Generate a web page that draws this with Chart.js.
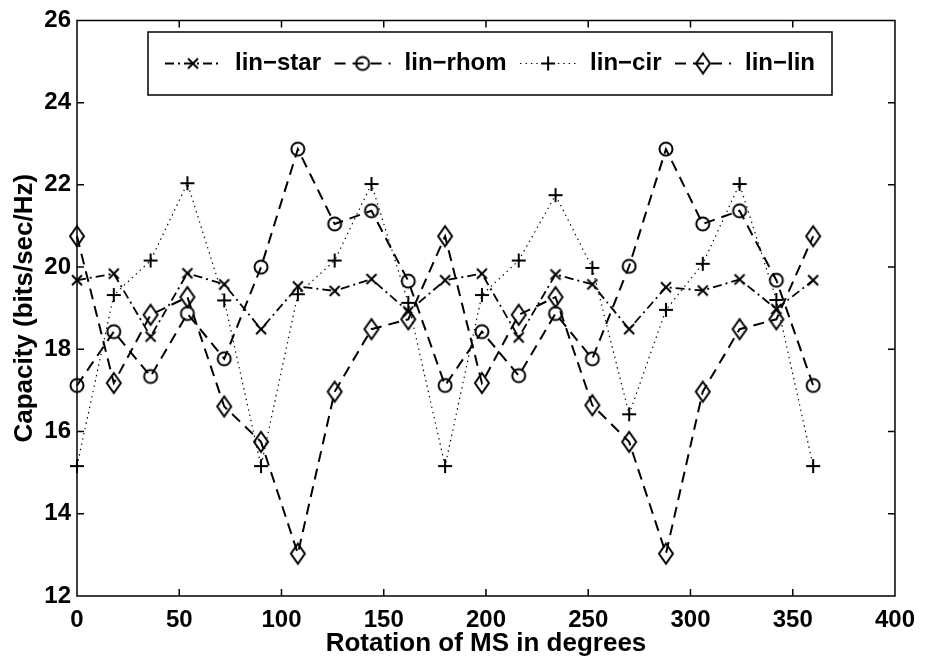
<!DOCTYPE html>
<html>
<head>
<meta charset="utf-8">
<script src="https://cdn.jsdelivr.net/npm/chart.js@4.4.1/dist/chart.umd.min.js"></script>
<style>
  html, body { margin: 0; padding: 0; background: #fff; }
  canvas { display: block; }
</style>
</head>
<body>
<canvas id="chart" width="925" height="661"></canvas>
<script>
// Rotation angle of the MS (degrees)
const angles = [0, 18, 36, 54, 72, 90, 108, 126, 144, 162, 180, 198, 216, 234, 252, 270, 288, 306, 324, 342, 360];

// Capacity (bits/sec/Hz) per configuration
const linStar = [19.68, 19.84, 18.31, 19.85, 19.58, 18.49, 19.53, 19.42, 19.71, 18.92, 19.68, 19.84, 18.29, 19.82, 19.58, 18.49, 19.51, 19.43, 19.70, 18.98, 19.68];
const linRhom = [17.12, 18.43, 17.34, 18.87, 17.77, 20.00, 22.87, 21.05, 21.37, 19.66, 17.12, 18.43, 17.36, 18.87, 17.77, 20.02, 22.87, 21.05, 21.37, 19.68, 17.12];
const linCir  = [15.16, 19.32, 20.16, 22.04, 19.19, 15.16, 19.34, 20.16, 22.02, 19.13, 15.16, 19.32, 20.16, 21.75, 19.98, 16.42, 18.96, 20.08, 22.02, 19.20, 15.16];
const linLin  = [20.75, 17.18, 18.84, 19.27, 16.61, 15.75, 13.03, 16.97, 18.49, 18.73, 20.75, 17.18, 18.84, 19.27, 16.64, 15.75, 13.03, 16.97, 18.49, 18.73, 20.75];

const seriesNames = ['lin\u2212star', 'lin\u2212rhom', 'lin\u2212cir', 'lin\u2212lin'];

// Axis ticks
const xTickValues = [0, 50, 100, 150, 200, 250, 300, 350, 400];
const yTickValues = [12, 14, 16, 18, 20, 22, 24, 26];

const xTitle = 'Rotation of MS in degrees';
const yTitle = 'Capacity (bits/sec/Hz)';

const FONT = "'Liberation Sans', Arial, Helvetica, sans-serif";

// Hollow black marker glyphs drawn on small canvases
function makeMarker(kind) {
  const w = 20;
  const h = kind === 'diamond' ? 26 : 20;
  const c = document.createElement('canvas');
  c.width = w; c.height = h;
  const g = c.getContext('2d');
  const cx = w / 2, cy = h / 2;
  g.strokeStyle = '#000';
  g.lineWidth = 2;
  g.beginPath();
  if (kind === 'x') {
    g.moveTo(cx - 5, cy - 5); g.lineTo(cx + 5, cy + 5);
    g.moveTo(cx + 5, cy - 5); g.lineTo(cx - 5, cy + 5);
  } else if (kind === 'plus') {
    g.moveTo(cx - 7, cy); g.lineTo(cx + 7, cy);
    g.moveTo(cx, cy - 7); g.lineTo(cx, cy + 7);
  } else if (kind === 'circle') {
    g.arc(cx, cy, 6.5, 0, Math.PI * 2);
  } else if (kind === 'diamond') {
    g.moveTo(cx, cy - 10); g.lineTo(cx + 7, cy);
    g.lineTo(cx, cy + 10); g.lineTo(cx - 7, cy);
    g.closePath();
  }
  g.stroke();
  return c;
}

const markers = {
  x: makeMarker('x'),
  circle: makeMarker('circle'),
  plus: makeMarker('plus'),
  diamond: makeMarker('diamond')
};

const styles = [
  { values: linStar, marker: markers.x,       dash: [9, 4, 2, 4], width: 1.8 },
  { values: linRhom, marker: markers.circle,  dash: [11, 7],      width: 2 },
  { values: linCir,  marker: markers.plus,    dash: [1.4, 4],     width: 1.2 },
  { values: linLin,  marker: markers.diamond, dash: [11, 7],      width: 2 }
];

const datasets = styles.map((s, i) => ({
  label: seriesNames[i],
  data: angles.map((a, k) => ({ x: a, y: s.values[k] })),
  borderColor: '#000',
  borderWidth: s.width,
  borderDash: s.dash,
  tension: 0,
  fill: false,
  clip: false,
  pointStyle: s.marker,
  pointRadius: 8,
  pointHoverRadius: 8,
  pointBorderColor: '#000',
  pointBackgroundColor: 'rgba(0,0,0,0)'
}));

// Axes box with inward tick marks on all four sides
const framePlugin = {
  id: 'frameBox',
  beforeDatasetsDraw(chart) {
    const { ctx, chartArea: a, scales } = chart;
    const L = a.left, R = a.right, T = a.top, B = a.bottom;
    const tl = 7;
    ctx.save();
    ctx.strokeStyle = '#000';
    ctx.lineWidth = 1.5;
    ctx.setLineDash([]);
    ctx.beginPath();
    ctx.rect(L, T, R - L, B - T);
    scales.x.ticks.forEach(t => {
      const px = scales.x.getPixelForValue(t.value);
      if (px <= L + 1 || px >= R - 1) return;
      ctx.moveTo(px, B); ctx.lineTo(px, B - tl);
      ctx.moveTo(px, T); ctx.lineTo(px, T + tl);
    });
    scales.y.ticks.forEach(t => {
      const py = scales.y.getPixelForValue(t.value);
      if (py <= T + 1 || py >= B - 1) return;
      ctx.moveTo(L, py); ctx.lineTo(L + tl, py);
      ctx.moveTo(R, py); ctx.lineTo(R - tl, py);
    });
    ctx.stroke();
    ctx.restore();
  }
};

// Horizontal legend in a framed box inside the plot
const legendPlugin = {
  id: 'boxLegend',
  afterDatasetsDraw(chart) {
    const { ctx } = chart;
    const box = { left: 148, top: 32, right: 832, bottom: 95 };
    const cy = (box.top + box.bottom) / 2;
    const sample = 56, textGap = 14, pad = 17;
    ctx.save();
    ctx.font = `bold 24px ${FONT}`;
    const widths = chart.data.datasets.map(d => ctx.measureText(d.label).width);
    const textTotal = widths.reduce((s, v) => s + v, 0);
    const n = widths.length;
    const itemGap = ((box.right - box.left) - textTotal - n * (sample + textGap) - 2 * pad) / (n - 1);

    ctx.fillStyle = '#fff';
    ctx.fillRect(box.left, box.top, box.right - box.left, box.bottom - box.top);
    ctx.strokeStyle = '#000';
    ctx.lineWidth = 1.5;
    ctx.strokeRect(box.left, box.top, box.right - box.left, box.bottom - box.top);

    let x = box.left + pad;
    chart.data.datasets.forEach((d, i) => {
      ctx.beginPath();
      ctx.setLineDash(d.borderDash);
      ctx.lineWidth = d.borderWidth;
      ctx.moveTo(x, cy);
      ctx.lineTo(x + sample, cy);
      ctx.stroke();
      ctx.setLineDash([]);
      const m = d.pointStyle;
      ctx.drawImage(m, x + sample / 2 - m.width / 2, cy - m.height / 2);
      x += sample + textGap;
      ctx.fillStyle = '#000';
      ctx.textBaseline = 'middle';
      ctx.textAlign = 'left';
      ctx.fillText(d.label, x, cy);
      x += widths[i] + itemGap;
    });
    ctx.restore();
  }
};

const tickFont = { family: FONT, size: 24, weight: 'bold' };
const titleFont = { family: FONT, size: 26, weight: 'bold', lineHeight: 1 };

new Chart(document.getElementById('chart'), {
  type: 'line',
  data: { datasets },
  options: {
    responsive: false,
    animation: false,
    devicePixelRatio: 1,
    layout: { padding: { top: 16, right: 26, left: 0, bottom: 0 } },
    plugins: { legend: { display: false }, tooltip: { enabled: false } },
    scales: {
      x: {
        type: 'linear',
        min: 0, max: 400,
        afterBuildTicks: s => { s.ticks = xTickValues.map(v => ({ value: v })); },
        afterFit: s => { s.height = 65; },
        grid: { display: false, drawTicks: false, tickLength: 0 },
        border: { display: false },
        ticks: { font: tickFont, color: '#000', padding: 10, maxRotation: 0, autoSkip: false },
        title: { display: true, text: xTitle, font: titleFont, color: '#000', padding: { top: 0, bottom: 4 } }
      },
      y: {
        type: 'linear',
        min: 12, max: 26,
        afterBuildTicks: s => { s.ticks = yTickValues.map(v => ({ value: v })); },
        afterFit: s => { s.width = 77; },
        grid: { display: false, drawTicks: false, tickLength: 0 },
        border: { display: false },
        ticks: { font: tickFont, color: '#000', padding: 6, autoSkip: false },
        title: { display: true, text: yTitle, font: titleFont, color: '#000', padding: { top: 12, bottom: 0 } }
      }
    }
  },
  plugins: [framePlugin, legendPlugin]
});
</script>
</body>
</html>
